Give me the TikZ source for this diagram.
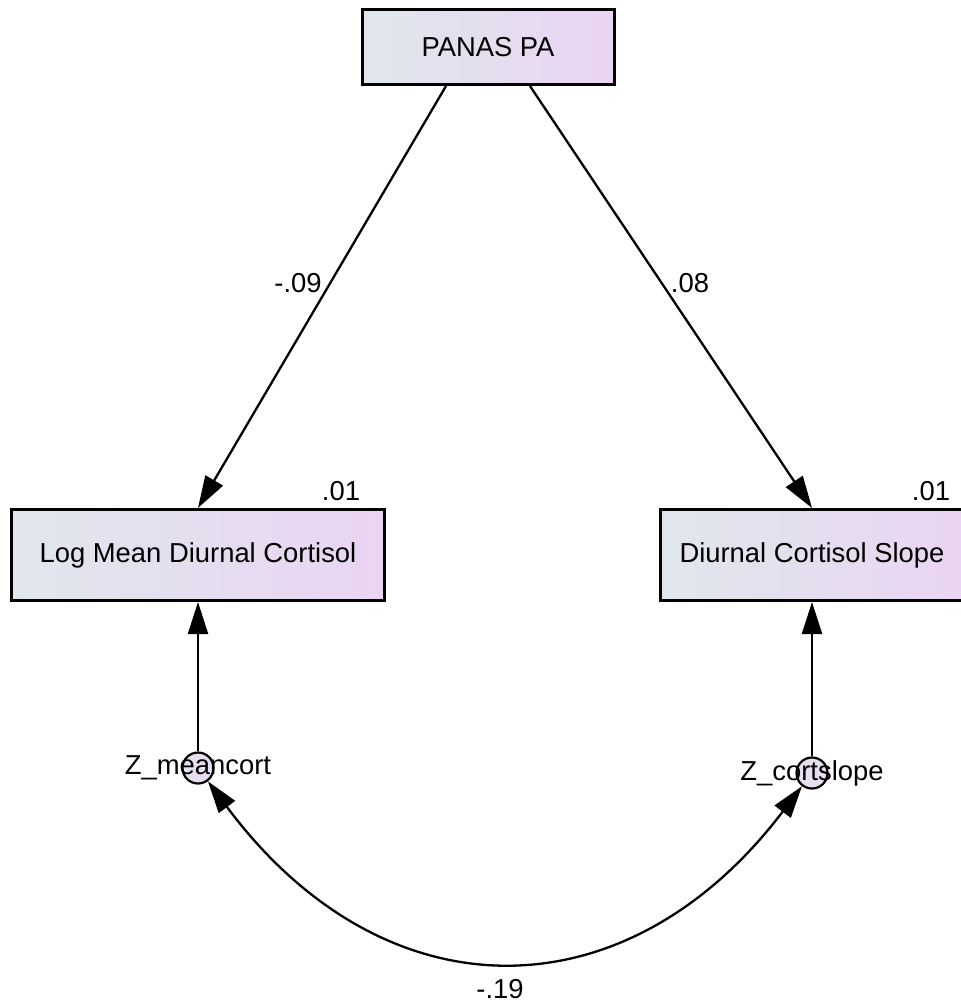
\documentclass[tikz,border=0pt]{standalone}
\usepackage{fontspec}
\setmainfont{Liberation Sans}
\usetikzlibrary{arrows.meta}
\definecolor{boxleft}{RGB}{224,231,236}
\definecolor{boxright}{RGB}{234,212,243}
\definecolor{errfill}{RGB}{232,222,242}

\begin{document}
\begin{tikzpicture}[x=0.5pt,y=-0.5pt,font=\fontsize{13.7}{16}\selectfont,
  obs/.style={draw,line width=1.5pt,left color=boxleft,right color=boxright,inner sep=0pt},
  err/.style={circle,draw,line width=1.1pt,fill=errfill,minimum size=15.5pt,inner sep=0pt},
  regarrow/.style={line width=1.15pt,-{Triangle[length=16pt,width=10pt]}},
  covarrow/.style={line width=1.15pt,{Triangle[length=16pt,width=10pt]}-{Triangle[length=16pt,width=10pt]}}]

\useasboundingbox (0,0) rectangle (960,1002);

\begin{scope}
\node[obs,minimum width=126pt,minimum height=37.5pt] (panas) at (488,47) {PANAS PA};
\node[obs,minimum width=186.5pt,minimum height=45.5pt] (lmdc) at (198,555) {Log Mean Diurnal Cortisol};
\node[obs,minimum width=152pt,minimum height=45.5pt] (dcs) at (812,555) {Diurnal Cortisol Slope};

\node[err] (zl) at (198,768) {};
\node[err] (zr) at (812,773) {};

\draw[regarrow] ([xshift=-21pt]panas.south) -- (lmdc.north);
\draw[regarrow] ([xshift=21pt]panas.south) -- (dcs.north);
\draw[regarrow] (zl) -- (lmdc);
\draw[regarrow] (zr) -- (dcs);
\draw[covarrow] (zl) .. controls (384,1018) and (626,1018) .. (zr);

\node (zltext) at (zl) {Z\_meancort};
\node (zrtext) at (zr) {Z\_cortslope};

\node (b1) at (298,283) {-.09};
\node (b2) at (690,283) {.08};
\node (r1) at (341,491) {.01};
\node (r2) at (931,491) {.01};
\node[inner sep=0pt] (c1) at (500,989) {-.19};
\end{scope}

\end{tikzpicture}
\end{document}
